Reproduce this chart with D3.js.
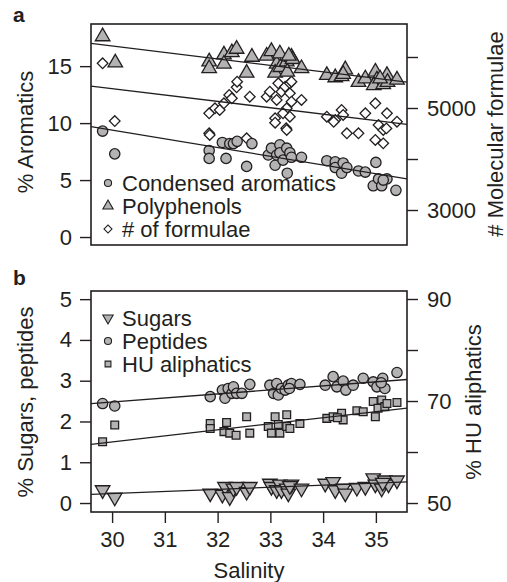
<!DOCTYPE html>
<html>
<head>
<meta charset="utf-8">
<script src="https://cdn.jsdelivr.net/npm/d3@7"></script>
<style>
  body { margin: 0; background: #fff; }
  svg text { font-family: "Liberation Sans", Arial, sans-serif; fill: #231f20; }
</style>
</head>
<body>
<div id="chart"></div>
<script>
// panel a: [salinity, value]
var condensed = [[29.82,9.3],[30.05,7.3],[31.84,7.6],[31.84,6.9],[32.09,8.3],[32.16,6.9],[32.23,8.2],[32.30,8.2],
  [32.37,8.4],[32.55,6.2],[32.65,8.2],[32.96,7.2],[33.02,7.8],[33.09,6.3],[33.12,7.2],[33.18,8.1],[33.18,7.4],
  [33.24,6.75],[33.31,7.8],[33.32,5.6],[33.37,7.4],[33.40,7.0],[33.59,7.0],[34.07,6.7],[34.23,6.6],[34.23,6.1],
  [34.38,6.5],[34.35,5.6],[34.45,6.1],[34.67,5.8],[34.80,5.7],[35.00,6.55],[34.95,4.5],[35.05,5.1],[35.11,4.5],
  [35.21,5.1],[35.14,5.0],[35.38,4.1]];
var polyphenols = [[29.82,17.6],[30.06,15.3],[31.84,15.4],[31.84,14.8],[32.12,16.0],[32.12,15.2],[32.27,16.2],
  [32.36,16.5],[32.55,14.4],[32.65,15.8],[32.93,15.9],[33.02,16.3],[33.12,15.2],[33.09,14.4],[33.18,16.1],
  [33.19,14.9],[33.31,15.4],[33.32,14.5],[33.40,15.8],[33.42,15.6],[33.35,15.9],[33.59,14.8],[34.07,14.2],
  [34.23,14.0],[34.35,14.1],[34.42,14.7],[34.38,14.3],[34.67,13.6],[34.80,13.9],[34.99,14.5],[35.02,13.8],
  [34.96,13.3],[35.14,13.4],[35.21,14.2],[35.22,13.6],[35.08,13.9],[35.40,13.8]];
var formulae = [[29.82,5876],[30.05,4745],[31.84,4896],[31.84,4504],[31.85,4471],[31.95,4994],[32.04,4961],
  [32.12,5092],[32.22,5255],[32.27,5190],[32.36,5406],[32.37,5516],[32.55,4406],[32.61,5222],[32.93,5222],
  [32.99,5320],[33.12,5157],[33.15,5484],[33.21,5320],[33.28,5418],[33.37,5484],[33.40,5516],[33.37,5288],
  [33.40,5124],[33.59,5157],[33.31,4994],[33.24,4896],[33.09,4798],[33.09,4712],[33.37,4830],[33.30,4602],
  [33.31,4569],[34.07,4830],[34.23,4765],[34.20,4730],[34.35,4961],[34.38,4863],[34.45,4504],[34.67,4504],
  [34.80,4896],[34.99,5092],[35.21,4896],[35.05,4667],[35.14,4569],[35.20,4600],[35.40,4731],[34.99,4373],
  [35.14,4307]];

// panel b
var sugars = [[29.82,0.32],[30.05,0.14],[31.86,0.24],[32.09,0.21],[32.14,0.40],[32.23,0.15],[32.30,0.36],
  [32.36,0.40],[32.55,0.28],[32.61,0.40],[32.99,0.48],[33.02,0.40],[33.12,0.32],[33.18,0.46],[33.21,0.32],
  [33.31,0.36],[33.34,0.24],[33.40,0.46],[33.37,0.42],[33.59,0.36],[34.04,0.48],[34.19,0.52],[34.23,0.32],
  [34.38,0.36],[34.42,0.24],[34.64,0.38],[34.80,0.40],[34.95,0.61],[34.99,0.46],[35.11,0.36],[35.17,0.56],
  [35.24,0.46],[35.13,0.50],[35.40,0.56]];
var peptides = [[29.82,2.44],[30.05,2.38],[31.86,2.61],[32.09,2.77],[32.14,2.57],[32.20,2.81],[32.27,2.69],
  [32.30,2.85],[32.36,2.69],[32.46,2.69],[32.61,2.91],[32.99,2.89],[33.06,2.69],[33.12,2.93],[33.15,2.65],
  [33.21,2.81],[33.28,2.77],[33.34,2.89],[33.40,2.93],[33.36,2.81],[33.56,2.91],[34.04,2.89],[34.19,3.10],
  [34.26,2.85],[34.38,2.99],[34.43,2.77],[34.57,2.89],[34.76,3.06],[34.95,2.97],[35.02,2.85],[35.13,3.06],
  [35.17,2.81],[35.10,2.95],[35.40,3.20]];
var huAliphatic = [[29.82,62.0],[30.05,65.3],[31.86,65.6],[31.86,64.6],[32.17,65.8],[32.12,64.0],[32.23,63.7],
  [32.35,63.3],[32.55,66.9],[32.61,63.7],[32.96,65.0],[33.02,63.7],[33.09,66.9],[33.18,63.7],[33.15,65.4],
  [33.31,67.3],[33.31,65.0],[33.37,64.6],[33.56,65.6],[34.07,66.6],[34.19,66.9],[34.35,67.6],[34.38,66.3],
  [34.27,66.7],[34.64,68.1],[34.76,67.9],[34.95,69.9],[35.11,70.2],[35.04,68.6],[35.17,68.9],[35.21,69.5],
  [34.99,66.9],[35.40,69.7]];

// regression lines, read at the plot edges
var condensedFit = [[29.6,9.7],[35.59,5.1]];
var polyFit = [[29.6,17.0],[35.59,13.6]];
var formulaeFit = [[29.6,5431],[35.59,4680]];
var sugarsFit = [[29.6,0.21],[35.59,0.52]];
var peptidesFit = [[29.6,2.44],[35.59,3.03]];
var huFit = [[29.6,61.5],[35.59,68.6]];

var xTicks = [30,31,32,33,34,35];
var aLeftTicks = [0,5,10,15];
var aRightTicks = [3000,4000,5000,6000];
var aRightLabels = [3000,5000];
var bLeftTicks = [0,1,2,3,4,5];
var bRightTicks = [50,60,70,80,90];
var bRightLabels = [50,70,90];

var W = 507, H = 582;
var left = 91, right = 407;
var fill = '#b3b3b3', ink = '#231f20';
var fs = 22;

var svg = d3.select('#chart').append('svg')
  .attr('width', W).attr('height', H);

var x = d3.scaleLinear().domain([29.6, 35.59]).range([left, right]);

var ya = d3.scaleLinear().domain([-0.7, 18.7]).range([245, 24]);
var yaR = d3.scaleLinear().domain([2314, 6647]).range([245, 24]);
var yb = d3.scaleLinear().domain([-0.22, 5.2]).range([512, 291]);
var ybR = d3.scaleLinear().domain([48.24, 91.57]).range([512, 291]);

var fmt = d3.format('d');

function styleAxis(a) {
  a.select('.domain').remove();
  a.selectAll('line').attr('stroke', ink).attr('stroke-width', 1.4);
  a.selectAll('text').attr('font-size', fs).style('fill', ink);
}

function drawAxes(g, yL, yR, lTicks, rTicks, rLabels, showX) {
  var ax = g.append('g').attr('transform', 'translate(' + left + ',0)')
    .call(d3.axisLeft(yL).tickValues(lTicks).tickSize(11).tickPadding(8).tickFormat(fmt));
  var axr = g.append('g').attr('transform', 'translate(' + right + ',0)')
    .call(d3.axisRight(yR).tickValues(rTicks).tickSize(11).tickPadding(9)
      .tickFormat(function(d) { return rLabels.indexOf(d) >= 0 ? fmt(d) : ''; }));
  styleAxis(ax);
  styleAxis(axr);
  var r = yL.range();
  g.append('rect').attr('x', left).attr('y', r[1])
    .attr('width', right - left).attr('height', r[0] - r[1])
    .attr('fill', 'none').attr('stroke', ink).attr('stroke-width', 1.6);
  if (showX) {
    var axx = g.append('g').attr('transform', 'translate(0,' + r[0] + ')')
      .call(d3.axisBottom(x).tickValues(xTicks).tickSize(11).tickPadding(8).tickFormat(fmt));
    styleAxis(axx);
  }
}

function points(g, data, ys, type, size, rot, col) {
  g.append('g').selectAll('path')
    .data(data)
    .enter()
    .append('path')
    .attr('d', d3.symbol().type(type).size(size))
    .attr('transform', function(d) {
      return 'translate(' + x(d[0]) + ',' + ys(d[1]) + ') rotate(' + rot + ')';
    })
    .attr('fill', col)
    .attr('stroke', ink).attr('stroke-width', 1.3);
}

function fit(g, data, ys) {
  var line = d3.line().x(function(d) { return x(d[0]); }).y(function(d) { return ys(d[1]); });
  g.append('path').datum(data).attr('d', line)
    .attr('fill', 'none').attr('stroke', ink).attr('stroke-width', 1.3);
}

// ---- panel a
var ga = svg.append('g');
drawAxes(ga, ya, yaR, aLeftTicks, aRightTicks, aRightLabels, false);
points(ga, formulae, yaR, d3.symbolSquare, 56, 45, '#fff');
points(ga, polyphenols, ya, d3.symbolTriangle, 92, 0, fill);
points(ga, condensed, ya, d3.symbolCircle, 84, 0, fill);
fit(ga, polyFit, ya);
fit(ga, formulaeFit, yaR);
fit(ga, condensedFit, ya);

// ---- panel b
var gb = svg.append('g');
drawAxes(gb, yb, ybR, bLeftTicks, bRightTicks, bRightLabels, true);
points(gb, huAliphatic, ybR, d3.symbolSquare, 60, 0, fill);
points(gb, peptides, yb, d3.symbolCircle, 84, 0, fill);
points(gb, sugars, yb, d3.symbolTriangle, 92, 180, fill);
fit(gb, peptidesFit, yb);
fit(gb, huFit, ybR);
fit(gb, sugarsFit, yb);

// ---- legends
function legend(items, y0) {
  items.forEach(function(it, i) {
    var yy = y0 + i * 23;
    svg.append('path')
      .attr('d', d3.symbol().type(it.type).size(it.size))
      .attr('transform', 'translate(108,' + yy + ') rotate(' + (it.rot || 0) + ')')
      .attr('fill', it.fill).attr('stroke', ink).attr('stroke-width', 1.1);
    svg.append('text').attr('x', 122).attr('y', yy + 8)
      .attr('font-size', 22).text(it.label);
  });
}
legend([
  {label: 'Condensed aromatics', type: d3.symbolCircle, size: 40, fill: fill},
  {label: 'Polyphenols', type: d3.symbolTriangle, size: 46, fill: fill},
  {label: '# of formulae', type: d3.symbolSquare, size: 32, fill: '#fff', rot: 45}
], 183);
legend([
  {label: 'Sugars', type: d3.symbolTriangle, size: 46, fill: fill, rot: 180},
  {label: 'Peptides', type: d3.symbolCircle, size: 40, fill: fill},
  {label: 'HU aliphatics', type: d3.symbolSquare, size: 34, fill: fill}
], 318);

// ---- titles
function vtitle(txt, cx, cy) {
  svg.append('text').attr('transform', 'translate(' + cx + ',' + cy + ') rotate(-90)')
    .attr('text-anchor', 'middle').attr('font-size', fs).text(txt);
}
vtitle('% Aromatics', 33, 132);
vtitle('# Molecular formulae', 503, 134);
vtitle('% Sugars, peptides', 33, 402);
vtitle('% HU aliphatics', 481, 402);

svg.append('text').attr('x', 249).attr('y', 578).attr('text-anchor', 'middle')
  .attr('font-size', fs).text('Salinity');
svg.append('text').attr('x', 13).attr('y', 22).attr('font-size', 21)
  .attr('font-weight', 'bold').text('a');
svg.append('text').attr('x', 13).attr('y', 285).attr('font-size', 21)
  .attr('font-weight', 'bold').text('b');
</script>
</body>
</html>
